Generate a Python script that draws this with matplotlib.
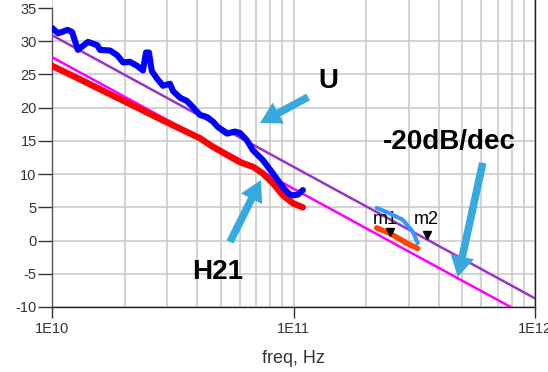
import matplotlib
matplotlib.use("Agg")
import matplotlib.pyplot as plt
import numpy as np

plt.rcParams['font.family'] = ['Liberation Sans', 'DejaVu Sans']

# ---- data (frequencies in GHz, values in dB) ----
u_freq = [10.0, 10.6, 11.6, 12.1, 12.8, 14.1, 15.4, 15.8, 17.4, 18.6, 19.7, 21.0, 22.5,
          23.8, 24.5, 25.2, 25.9, 27.2, 28.8, 30.8, 31.7, 33.9, 36.2, 38.3, 41.0, 43.8,
          46.4, 48.6, 53.0, 57.2, 60.0, 64.1, 67.9, 74.7, 82.2, 90.4, 96.0, 99.5, 104.0,
          109.4]
u_val = [32.0, 31.2, 31.7, 31.4, 28.7, 29.9, 29.4, 28.7, 28.6, 27.9, 26.8, 26.9, 26.3,
         25.6, 28.3, 28.3, 25.5, 24.4, 23.3, 23.6, 22.5, 21.5, 21.0, 20.1, 18.9, 18.6,
         17.9, 17.1, 16.1, 16.4, 16.2, 15.1, 13.6, 12.1, 10.1, 8.0, 7.0, 6.8, 6.9, 7.6]

h21_freq = [10.0, 13.0, 17.0, 22.0, 28.0, 35.0, 41.0, 46.4, 53.0, 60.0, 67.9, 74.7,
            82.2, 90.4, 99.5, 109.4]
h21_val = [26.3, 24.3, 22.2, 20.2, 18.3, 16.6, 15.4, 14.1, 12.9, 11.8, 11.1, 10.1,
           8.6, 6.8, 5.6, 5.0]

u2_freq = [221, 250, 284, 312, 327]
u2_val = [4.9, 4.1, 3.1, 1.3, -0.4]

h2_freq = [221, 250, 295, 327]
h2_val = [1.9, 1.1, -0.4, -1.2]

ref_freq = [10.0, 1000.0]
ref_u = [30.9, -8.7]
ref_h21 = [27.6, -12.0]

marker_freq = [250, 356]
marker_val = [1.3, 0.9]
marker_names = ["m1", "m2"]

yticks = [-10, -5, 0, 5, 10, 15, 20, 25, 30, 35]
xticks = [1e10, 1e11, 1e12]
xticklabels = ["1E10", "1E11", "1E12"]

G = 1e9

fig = plt.figure(figsize=(5.48, 3.72), dpi=100)
ax = fig.add_axes([52/548, 65/372, (535-52)/548, 307/372])

ax.set_xscale('log')
ax.set_xlim(1e10, 1e12)
ax.set_ylim(-10, 35 + 8/6.644)

# grid
ax.set_xticks(xticks)
ax.set_xticklabels(xticklabels)
ax.set_xticks([m * 10**e for e in (10, 11) for m in range(2, 10)], minor=True)
ax.set_yticks(yticks)
ax.set_yticklabels([str(v) for v in yticks])
ax.grid(True, which='both', axis='x', color='#c8c8c8', lw=1.1)
ax.grid(True, which='major', axis='y', color='#c8c8c8', lw=1.1)
ax.tick_params(axis='x', which='minor', length=0)
ax.tick_params(axis='y', which='minor', length=0, left=False)
ax.tick_params(axis='y', which='major', direction='out', length=10, width=1.0,
               colors='#333333', labelsize=10.5, pad=1)
ax.tick_params(axis='x', which='major', direction='out', length=8, width=1.0,
               colors='#333333', labelsize=10.5, pad=3)
ax.get_ygridlines()[-1].set_visible(False)

ax.spines['top'].set_visible(False)
ax.spines['left'].set_bounds(-10, 35)
ax.spines['left'].set_color('#555555')
ax.spines['right'].set_color('#222222')
ax.spines['bottom'].set_color('#222222')
for s in ['left', 'right', 'bottom']:
    ax.spines[s].set_linewidth(1.0)

ax.set_xlabel("freq, Hz", fontsize=13, color='#333333', labelpad=10)

# reference lines
ax.plot(np.array(ref_freq) * G, ref_u, color='#9933CC', lw=1.8, zorder=3)
ax.plot(np.array(ref_freq) * G, ref_h21, color='#FF00FF', lw=1.8, zorder=3)

# measured curves
ax.plot(np.array(h21_freq) * G, h21_val, color='#FF0000', lw=4.6, solid_capstyle='round',
        solid_joinstyle='round', zorder=4)
ax.plot(np.array(u_freq) * G, u_val, color='#0000FF', lw=4.4, solid_capstyle='round',
        solid_joinstyle='round', zorder=5)
ax.plot(np.array(h2_freq) * G, h2_val, color='#FF4500', lw=4.0, solid_capstyle='round', zorder=5)

# markers
ax.plot(np.array(marker_freq) * G, marker_val, linestyle='none', marker='v',
        color='black', markersize=6, zorder=6)
ax.text(239 * G, 3.2, marker_names[0], fontsize=13, ha='center', va='center', zorder=6)
ax.text(356 * G, 3.2, marker_names[1], fontsize=13, ha='center', va='center', zorder=6)

ax.plot(np.array(u2_freq) * G, u2_val, color='#3399FF', lw=3, solid_capstyle='round', zorder=7)

# annotations
arrow_color = '#36A9DE'
astyle = "simple,head_width=1.7,head_length=1.5,tail_width=0.55"
for tail, tip in [((115 * G, 21.6), (72.6 * G, 17.7)),
                  ((54.6 * G, -0.2), (73.3 * G, 9.1)),
                  ((608 * G, 11.7), (479 * G, -5.5))]:
    ax.annotate('', xy=tip, xytext=tail,
                arrowprops=dict(arrowstyle=astyle, mutation_scale=10,
                                facecolor=arrow_color, edgecolor='none',
                                shrinkA=0, shrinkB=0), zorder=8)

ax.text(139 * G, 24.0, "U", fontsize=20, fontweight='bold', ha='center', va='center')
ax.text(48.6 * G, -4.7, "H21", fontsize=20, fontweight='bold', ha='center', va='center')
ax.text(440 * G, 14.8, "-20dB/dec", fontsize=20, fontweight='bold', ha='center', va='center')

fig.savefig("out.png", dpi=100)
